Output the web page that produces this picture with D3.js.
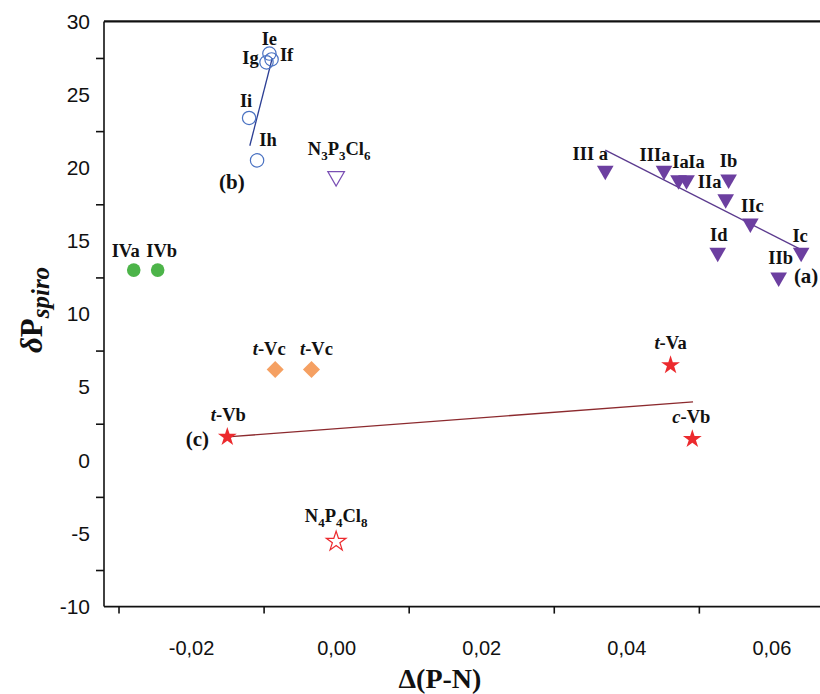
<!DOCTYPE html>
<html>
<head>
<meta charset="utf-8">
<script src="https://cdn.jsdelivr.net/npm/d3@7"></script>
<style>
    body { margin: 0; background: #fff; }
    text { font-family: "Liberation Serif", serif; }
    .tick text { font-family: "Liberation Sans", Arial, sans-serif; }
</style>
</head>
<body>
<div id="graph"></div>
<script>
"use strict";

// series (a): filled purple triangles
const aNames = ["III a", "IIIa", "Ia", "Ia", "Ib", "IIa", "IIc", "Id", "Ic", "IIb"];
const aX = [0.0371, 0.0452, 0.0472, 0.0483, 0.0541, 0.0537, 0.0571, 0.0526, 0.0641, 0.0610];
const aY = [19.8, 19.8, 19.15, 19.15, 19.2, 17.85, 16.2, 14.2, 14.2, 12.5];
const aLineX = [0.0371, 0.0641];
const aLineY = [21.2, 14.4];

// series (b): open blue circles
const bNames = ["Ie", "If", "Ig", "Ii", "Ih"];
const bX = [-0.0092, -0.0089, -0.0096, -0.0120, -0.0109];
const bY = [27.8, 27.4, 27.2, 23.4, 20.5];
const bLineX = [-0.0119, -0.0088];
const bLineY = [21.5, 27.5];

// series (c): red stars
const cNames = ["t-Vb", "t-Va", "c-Vb"];
const cX = [-0.0150, 0.0461, 0.0491];
const cY = [1.6, 6.5, 1.45];
const cLineX = [-0.0150, 0.0492];
const cLineY = [1.6, 4.0];

// others
const ivNames = ["IVa", "IVb"];
const ivX = [-0.0279, -0.0246];
const ivY = [13.0, 13.0];

const vcNames = ["t-Vc", "t-Vc"];
const vcX = [-0.0084, -0.0034];
const vcY = [6.2, 6.2];

const n3X = 0.0, n3Y = 19.4;
const n4X = 0.0, n4Y = -5.55;

const xLabelTicks = [-0.02, 0.00, 0.02, 0.04, 0.06];
const xMarkTicks = [-0.03, -0.01, 0.01, 0.03, 0.05];
const yLabelTicks = [30, 25, 20, 15, 10, 5, 0, -5, -10];
const yMarkTicks = [27.5, 22.5, 17.5, 12.5, 7.5, 2.5, -2.5, -7.5];

// label offsets (px) from the point
const aOff = [[-15, -11], [-9, -10], [2, -12], [10, -12], [0, -12], [-16, -11], [2, -11], [1, -12], [-1, -11], [2, -13]];
const bOff = [[0, -9], [15, 2], [-16, 2], [-3, -11], [11, -14]];
const cOff = [[1, -16], [0, -16], [-1, -16]];
const ivOff = [[-8, -13], [4, -13]];
const vcOff = [[-6, -15], [5, -15]];

const W = 820, H = 694;

const x = d3.scaleLinear().domain([-0.0320, 0.0667]).range([104, 820]);
const y = d3.scaleLinear().domain([-10, 30]).range([606.6, 21.4]);

const loc = d3.formatLocale({decimal: ",", thousands: ".", grouping: [3], currency: ["", ""], minus: "-"});
const fmt = loc.format(".2f");
const fmtY = loc.format("d");

const svg = d3.select("#graph").append("svg")
    .attr("width", W).attr("height", H);

// frame
svg.append("line").attr("x1", 104).attr("x2", W).attr("y1", y(30)).attr("y2", y(30))
    .attr("stroke", "#111").attr("stroke-width", 2.2);
svg.append("line").attr("x1", 104).attr("x2", 104).attr("y1", y(30)).attr("y2", y(-10))
    .attr("stroke", "#111").attr("stroke-width", 1.6);
svg.append("line").attr("x1", 104).attr("x2", W).attr("y1", y(-10)).attr("y2", y(-10))
    .attr("stroke", "#111").attr("stroke-width", 1.6);

// x axis ticks and labels
svg.append("g").attr("transform", "translate(0," + y(-10) + ")")
    .call(d3.axisBottom(x).tickValues(xMarkTicks).tickFormat("").tickSize(7).tickSizeOuter(0))
    .call(g => g.select(".domain").remove())
    .call(g => g.selectAll("line").attr("stroke", "#111").attr("stroke-width", 1.6));
svg.append("g").attr("transform", "translate(0," + y(-10) + ")")
    .call(d3.axisBottom(x).tickValues(xLabelTicks).tickFormat(fmt).tickSize(0).tickPadding(34))
    .call(g => g.select(".domain").remove())
    .call(g => g.selectAll("text").attr("font-size", 20).attr("fill", "#111"));

// y axis ticks and labels
svg.append("g").attr("transform", "translate(104,0)")
    .call(d3.axisLeft(y).tickValues(yMarkTicks).tickFormat("").tickSize(8).tickSizeOuter(0))
    .call(g => g.select(".domain").remove())
    .call(g => g.selectAll("line").attr("stroke", "#111").attr("stroke-width", 1.6));
svg.append("g").attr("transform", "translate(104,0)")
    .call(d3.axisLeft(y).tickValues(yLabelTicks).tickFormat(fmtY).tickSize(0).tickPadding(14))
    .call(g => g.select(".domain").remove())
    .call(g => g.selectAll("text").attr("font-size", 21).attr("fill", "#111"));

// axis titles
svg.append("text").attr("x", 440).attr("y", 688).attr("text-anchor", "middle")
    .attr("font-size", 28).attr("font-weight", "bold").attr("fill", "#111").text("Δ(P-N)");
let yt = svg.append("text").attr("transform", "translate(42,310) rotate(-90)")
    .attr("text-anchor", "middle").attr("font-weight", "bold").attr("fill", "#111");
yt.append("tspan").attr("font-size", 31).attr("font-style", "italic").text("δ");
yt.append("tspan").attr("font-size", 31).text("P");
yt.append("tspan").attr("font-size", 25).attr("font-style", "italic").attr("dy", 7).text("spiro");

// regression lines
function drawLine(xs, ys, color) {
    svg.append("path")
        .datum(d3.zip(xs, ys))
        .attr("d", d3.line().x(d => x(d[0])).y(d => y(d[1])))
        .attr("fill", "none").attr("stroke", color).attr("stroke-width", 1.3);
}
drawLine(aLineX, aLineY, "#5b3a8e");
drawLine(bLineX, bLineY, "#2c3f94");
drawLine(cLineX, cLineY, "#8c2a2e");

// markers
function drawPoints(xs, ys, type, size, fill, stroke, rot) {
    svg.append("g").selectAll("path")
        .data(d3.zip(xs, ys))
        .join("path")
        .attr("d", d3.symbol().type(type).size(size))
        .attr("transform", d => "translate(" + x(d[0]) + "," + y(d[1]) + ") rotate(" + rot + ")")
        .attr("fill", fill).attr("stroke", stroke).attr("stroke-width", 1.2);
}
drawPoints(bX, bY, d3.symbolCircle, 140, "none", "#4a72c2", 0);
drawPoints(aX, aY, d3.symbolTriangle, 120, "#6c3fa0", "none", 180);
drawPoints([n3X], [n3Y], d3.symbolTriangle, 120, "none", "#7a4fb4", 180);
drawPoints(ivX, ivY, d3.symbolCircle, 145, "#4cb449", "none", 0);
drawPoints(vcX, vcY, d3.symbolSquare, 145, "#f5a062", "none", 45);
drawPoints(cX, cY, d3.symbolStar, 110, "#ec2a2e", "none", 0);
drawPoints([n4X], [n4Y], d3.symbolStar, 120, "none", "#ec2a2e", 0);

// point labels
function drawLabels(names, xs, ys, offs) {
    names.forEach((n, i) => {
        let t = svg.append("text")
            .attr("x", x(xs[i]) + offs[i][0]).attr("y", y(ys[i]) + offs[i][1])
            .attr("text-anchor", "middle").attr("font-size", 18.5)
            .attr("font-weight", "bold").attr("fill", "#111");
        if (n.indexOf("-") > 0) {
            let parts = n.split("-");
            t.append("tspan").attr("font-style", "italic").text(parts[0]);
            t.append("tspan").text("-" + parts[1]);
        } else {
            t.text(n);
        }
    });
}
drawLabels(aNames, aX, aY, aOff);
drawLabels(bNames, bX, bY, bOff);
drawLabels(cNames, cX, cY, cOff);
drawLabels(ivNames, ivX, ivY, ivOff);
drawLabels(vcNames, vcX, vcY, vcOff);

function formula(px, py, pieces) {
    let t = svg.append("text").attr("x", px).attr("y", py).attr("text-anchor", "middle")
        .attr("font-size", 18.5).attr("font-weight", "bold").attr("fill", "#111");
    pieces.forEach((p, i) => {
        t.append("tspan").attr("dy", i === 0 ? 0 : -5).text(p[0]);
        t.append("tspan").attr("font-size", 13).attr("dy", 5).text(p[1]);
    });
}
formula(x(n3X) + 3, y(n3Y) - 21, [["N", "3"], ["P", "3"], ["Cl", "6"]]);
formula(x(n4X), y(n4Y) - 19, [["N", "4"], ["P", "4"], ["Cl", "8"]]);

// series letters
function letter(txt, px, py) {
    svg.append("text").attr("x", px).attr("y", py).attr("text-anchor", "middle")
        .attr("font-size", 21).attr("font-weight", "bold").attr("fill", "#111").text(txt);
}
letter("(a)", x(aLineX[1]) + 5, y(aLineY[1]) + 33);
letter("(b)", x(bLineX[0]) - 18, y(bLineY[0]) + 43);
letter("(c)", x(cLineX[0]) - 30, y(cLineY[0]) + 9);
</script>
</body>
</html>
